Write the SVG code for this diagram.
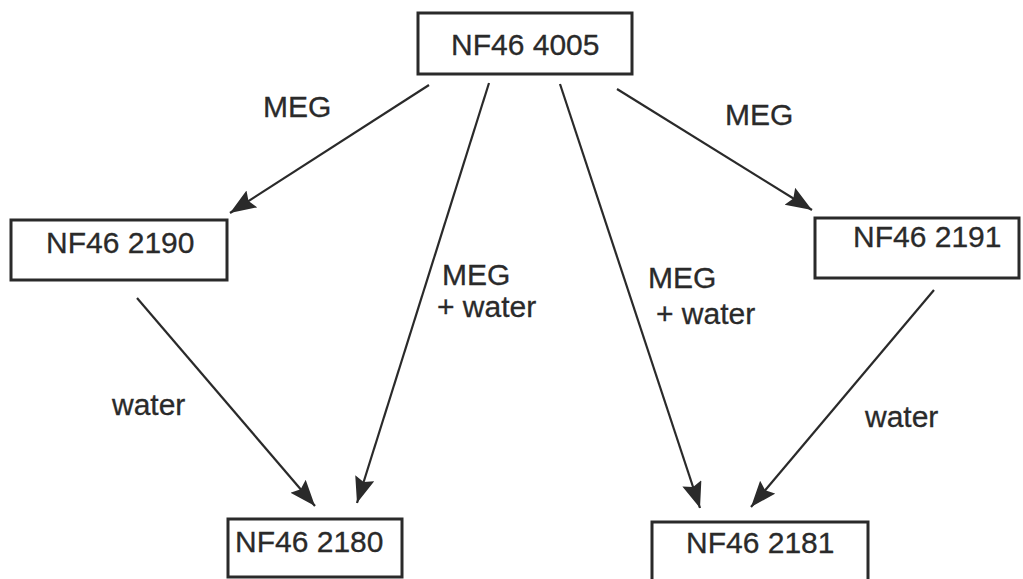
<svg xmlns="http://www.w3.org/2000/svg" width="1023" height="579" viewBox="0 0 1023 579">
<style>
.box{fill:#fff;stroke:#2a2a2a;stroke-width:3}
.t{font-family:"Liberation Sans",Arial,sans-serif;font-size:30px;fill:#2a2a2a;stroke:#2a2a2a;stroke-width:0.3}
.l{font-family:"Liberation Sans",Arial,sans-serif;font-size:30px;fill:#2a2a2a;stroke:#2a2a2a;stroke-width:0.3}
.c{stroke:#2a2a2a;stroke-width:2.2;fill:none;marker-end:url(#ah)}
</style>
<defs>
<marker id="ah" markerUnits="userSpaceOnUse" markerWidth="28" markerHeight="22" refX="26" refY="10" orient="auto">
<path d="M0,0 L26,10 L0,20 L4,10 Z" fill="#2a2a2a"/>
</marker>
</defs>
<rect width="1023" height="579" fill="#fff"/>
<g id="connectors">
<line class="c" x1="429" y1="85" x2="230" y2="213"/>
<line class="c" x1="489" y1="83" x2="357" y2="503"/>
<line class="c" x1="560" y1="84" x2="700" y2="508"/>
<line class="c" x1="617" y1="89" x2="812" y2="210"/>
<line class="c" x1="137" y1="298" x2="315" y2="506"/>
<line class="c" x1="934" y1="290" x2="751" y2="507"/>
</g>
<g id="labels">
<text class="l" x="263" y="117">MEG</text>
<text class="l" x="725" y="125">MEG</text>
<text class="l" x="442" y="285">MEG</text>
<text class="l" x="437" y="317">+ water</text>
<text class="l" x="648" y="288">MEG</text>
<text class="l" x="656" y="324">+ water</text>
<text class="l" x="112" y="415">water</text>
<text class="l" x="865" y="427">water</text>
</g>
<g id="n4005"><rect class="box" x="418" y="13" width="214" height="61"/><text class="t" x="451" y="55">NF46 4005</text></g>
<g id="n2190"><rect class="box" x="11" y="220" width="216" height="60"/><text class="t" x="46" y="253">NF46 2190</text></g>
<g id="n2191"><rect class="box" x="815" y="218" width="204" height="60"/><text class="t" x="853" y="247">NF46 2191</text></g>
<g id="n2180"><rect class="box" x="228" y="519" width="174" height="58"/><text class="t" x="235" y="552">NF46 2180</text></g>
<g id="n2181"><rect class="box" x="652" y="522" width="216" height="62"/><text class="t" x="686" y="553">NF46 2181</text></g>
</svg>
